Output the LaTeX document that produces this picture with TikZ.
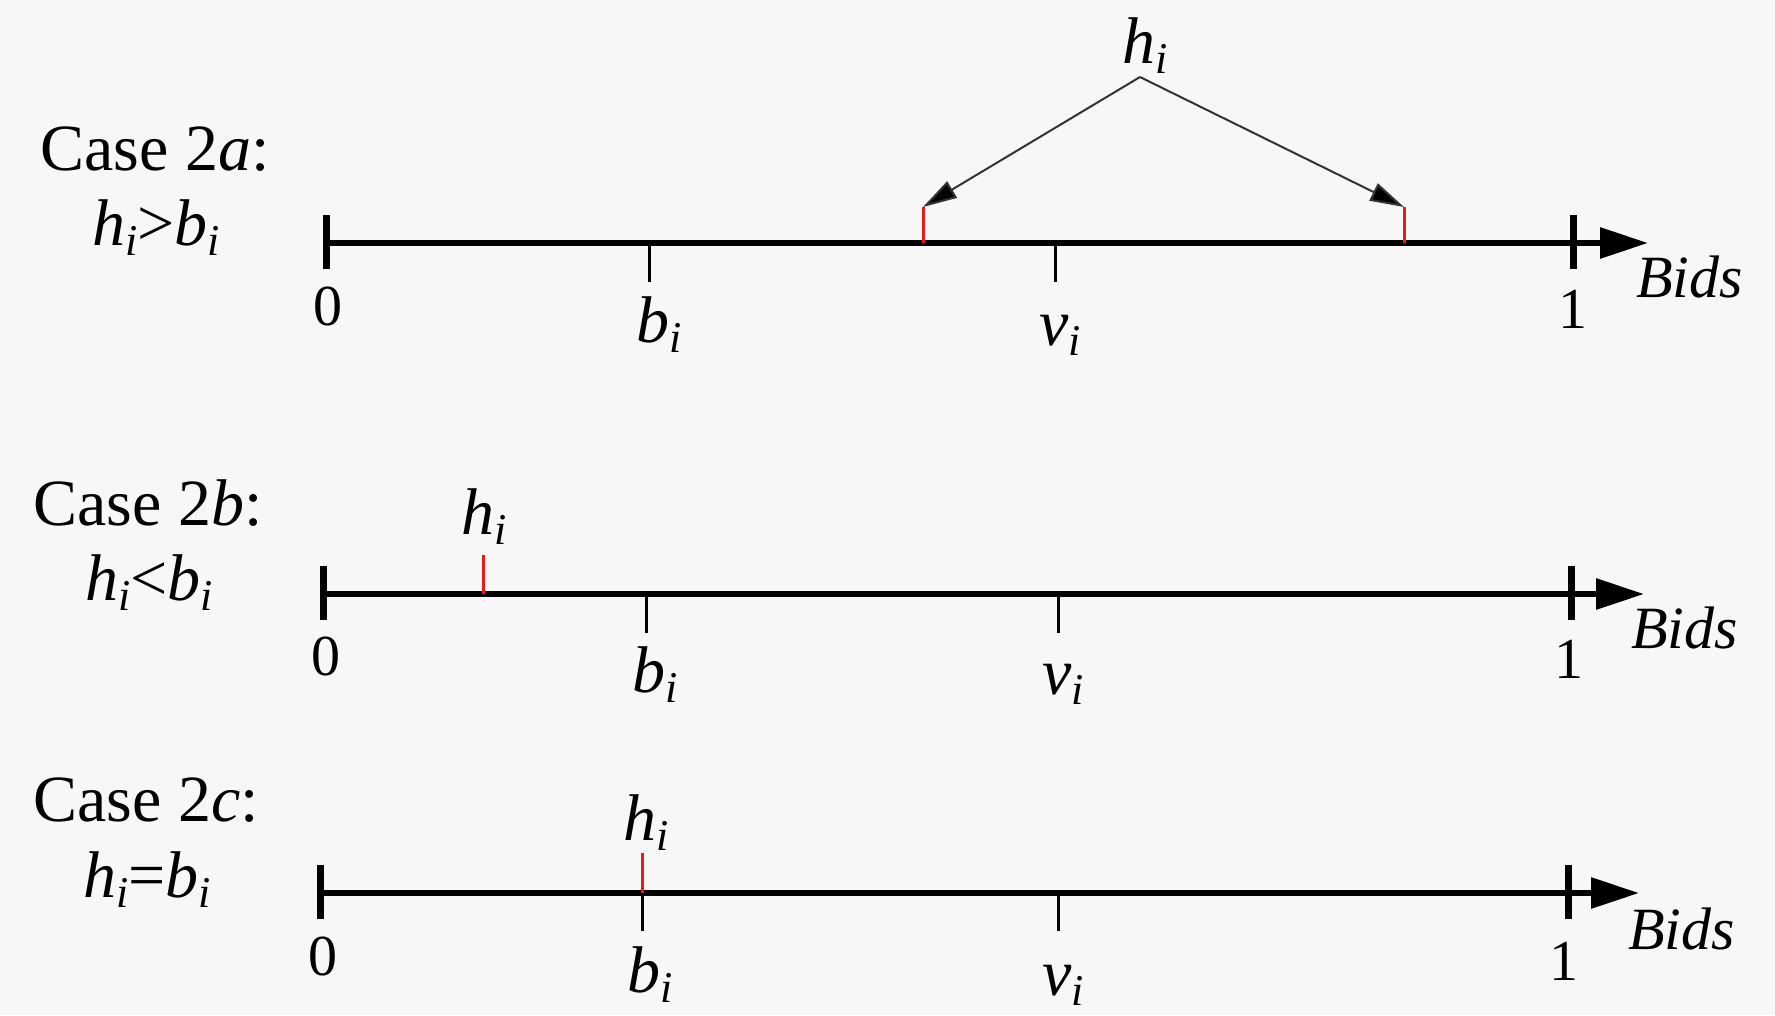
\documentclass[tikz,border=0pt]{standalone}
\usepackage{fontspec}
\setmainfont{Liberation Serif}
\newfontfamily\tnr{Liberation Serif}
\usetikzlibrary{arrows.meta}
\definecolor{bgc}{RGB}{247,247,247}
\definecolor{tickred}{RGB}{235,25,25}
\newcommand{\sbi}[1]{\textit{#1}\raisebox{-10pt}{\fontsize{44}{44}\selectfont\textit{i}}}
\begin{document}
\begin{tikzpicture}[x=1pt,y=-1pt,
 lab/.style={inner sep=0pt, anchor=base, font=\tnr\fontsize{66}{72}\selectfont},
 num/.style={inner sep=0pt, anchor=base, font=\tnr\fontsize{58}{64}\selectfont},
 bids/.style={inner sep=0pt, anchor=base west, font=\tnr\fontsize{60}{64}\selectfont\itshape},
 axisline/.style={line width=6pt, -{Triangle[length=48pt,width=30pt]}},
 endtick/.style={line width=7pt},
 midtick/.style={line width=3pt},
 rtick/.style={line width=3pt, draw=tickred},
 pointer/.style={line width=2pt, draw=black!80, -{Triangle[length=34pt,width=19pt,fill=black]}}
]
\fill[bgc] (0,0) rectangle (1775,1015);
\useasboundingbox (0,0) rectangle (1775,1015);

% ---------- Row 1 ----------
\node[lab] (c1) at (155,170) {Case 2\textit{a}:};
\node[lab] (e1) at (156,245) {\sbi{h}>\sbi{b}};
\coordinate (a1s) at (326,243);
\coordinate (a1e) at (1573,243);
\coordinate (a1t) at (1648,243);
\coordinate (a1b) at (649,243);
\coordinate (a1v) at (1055,243);
\coordinate (a1r) at (923,243);
\coordinate (a1q) at (1404,243);
\draw[axisline] (a1s) -- (a1t);
\draw[endtick] (a1s) ++(0,-28) -- ++(0,54);
\draw[endtick] (a1e) ++(0,-28) -- ++(0,54);
\draw[midtick] (a1b) -- ++(0,39);
\draw[midtick] (a1v) -- ++(0,39);
\draw[rtick] (a1r) -- ++(0,-36) coordinate (a1rt);
\draw[rtick] (a1q) -- ++(0,-36) coordinate (a1qt);
\node[lab] (h1) at (1145,63) {\sbi{h}};
\coordinate (ap) at (1140,77);
\draw[pointer] (ap) -- (a1rt);
\draw[pointer] (ap) -- (a1qt);
\node[num] (z1) at (328,325) {0};
\node[lab] (b1) at (659,342) {\sbi{b}};
\node[lab] (v1) at (1060,345) {\sbi{v}};
\node[num] (o1) at (1573,328) {1};
\node[bids] (d1) at (1636,297) {Bids};

% ---------- Row 2 ----------
\node[lab] (c2) at (148,525) {Case 2\textit{b}:};
\node[lab] (e2) at (149,600) {\sbi{h}<\sbi{b}};
\coordinate (a2s) at (323,594);
\coordinate (a2e) at (1571,594);
\coordinate (a2t) at (1644,594);
\coordinate (a2b) at (646,594);
\coordinate (a2v) at (1058,594);
\coordinate (a2r) at (483,594);
\draw[axisline] (a2s) -- (a2t);
\draw[endtick] (a2s) ++(0,-28) -- ++(0,54);
\draw[endtick] (a2e) ++(0,-28) -- ++(0,54);
\draw[midtick] (a2b) -- ++(0,39);
\draw[midtick] (a2v) -- ++(0,39);
\draw[rtick] (a2r) -- ++(0,-39);
\node[lab] (h2) at (484,534) {\sbi{h}};
\node[num] (z2) at (326,675) {0};
\node[lab] (b2) at (655,692) {\sbi{b}};
\node[lab] (v2) at (1063,694) {\sbi{v}};
\node[num] (o2) at (1569,678) {1};
\node[bids] (d2) at (1631,648) {Bids};

% ---------- Row 3 ----------
\node[lab] (c3) at (146,821) {Case 2\textit{c}:};
\node[lab] (e3) at (147,897) {\sbi{h}=\sbi{b}};
\coordinate (a3s) at (320,893);
\coordinate (a3e) at (1568,893);
\coordinate (a3t) at (1639,893);
\coordinate (a3b) at (642,893);
\coordinate (a3v) at (1058,893);
\draw[axisline] (a3s) -- (a3t);
\draw[endtick] (a3s) ++(0,-28) -- ++(0,54);
\draw[endtick] (a3e) ++(0,-28) -- ++(0,54);
\draw[midtick] (a3b) -- ++(0,38);
\draw[midtick] (a3v) -- ++(0,38);
\draw[rtick] (a3b) -- ++(0,-40);
\node[lab] (h3) at (646,840) {\sbi{h}};
\node[num] (z3) at (323,975) {0};
\node[lab] (b3) at (650,992) {\sbi{b}};
\node[lab] (v3) at (1063,995) {\sbi{v}};
\node[num] (o3) at (1564,980) {1};
\node[bids] (d3) at (1628,949) {Bids};
\end{tikzpicture}
\end{document}
